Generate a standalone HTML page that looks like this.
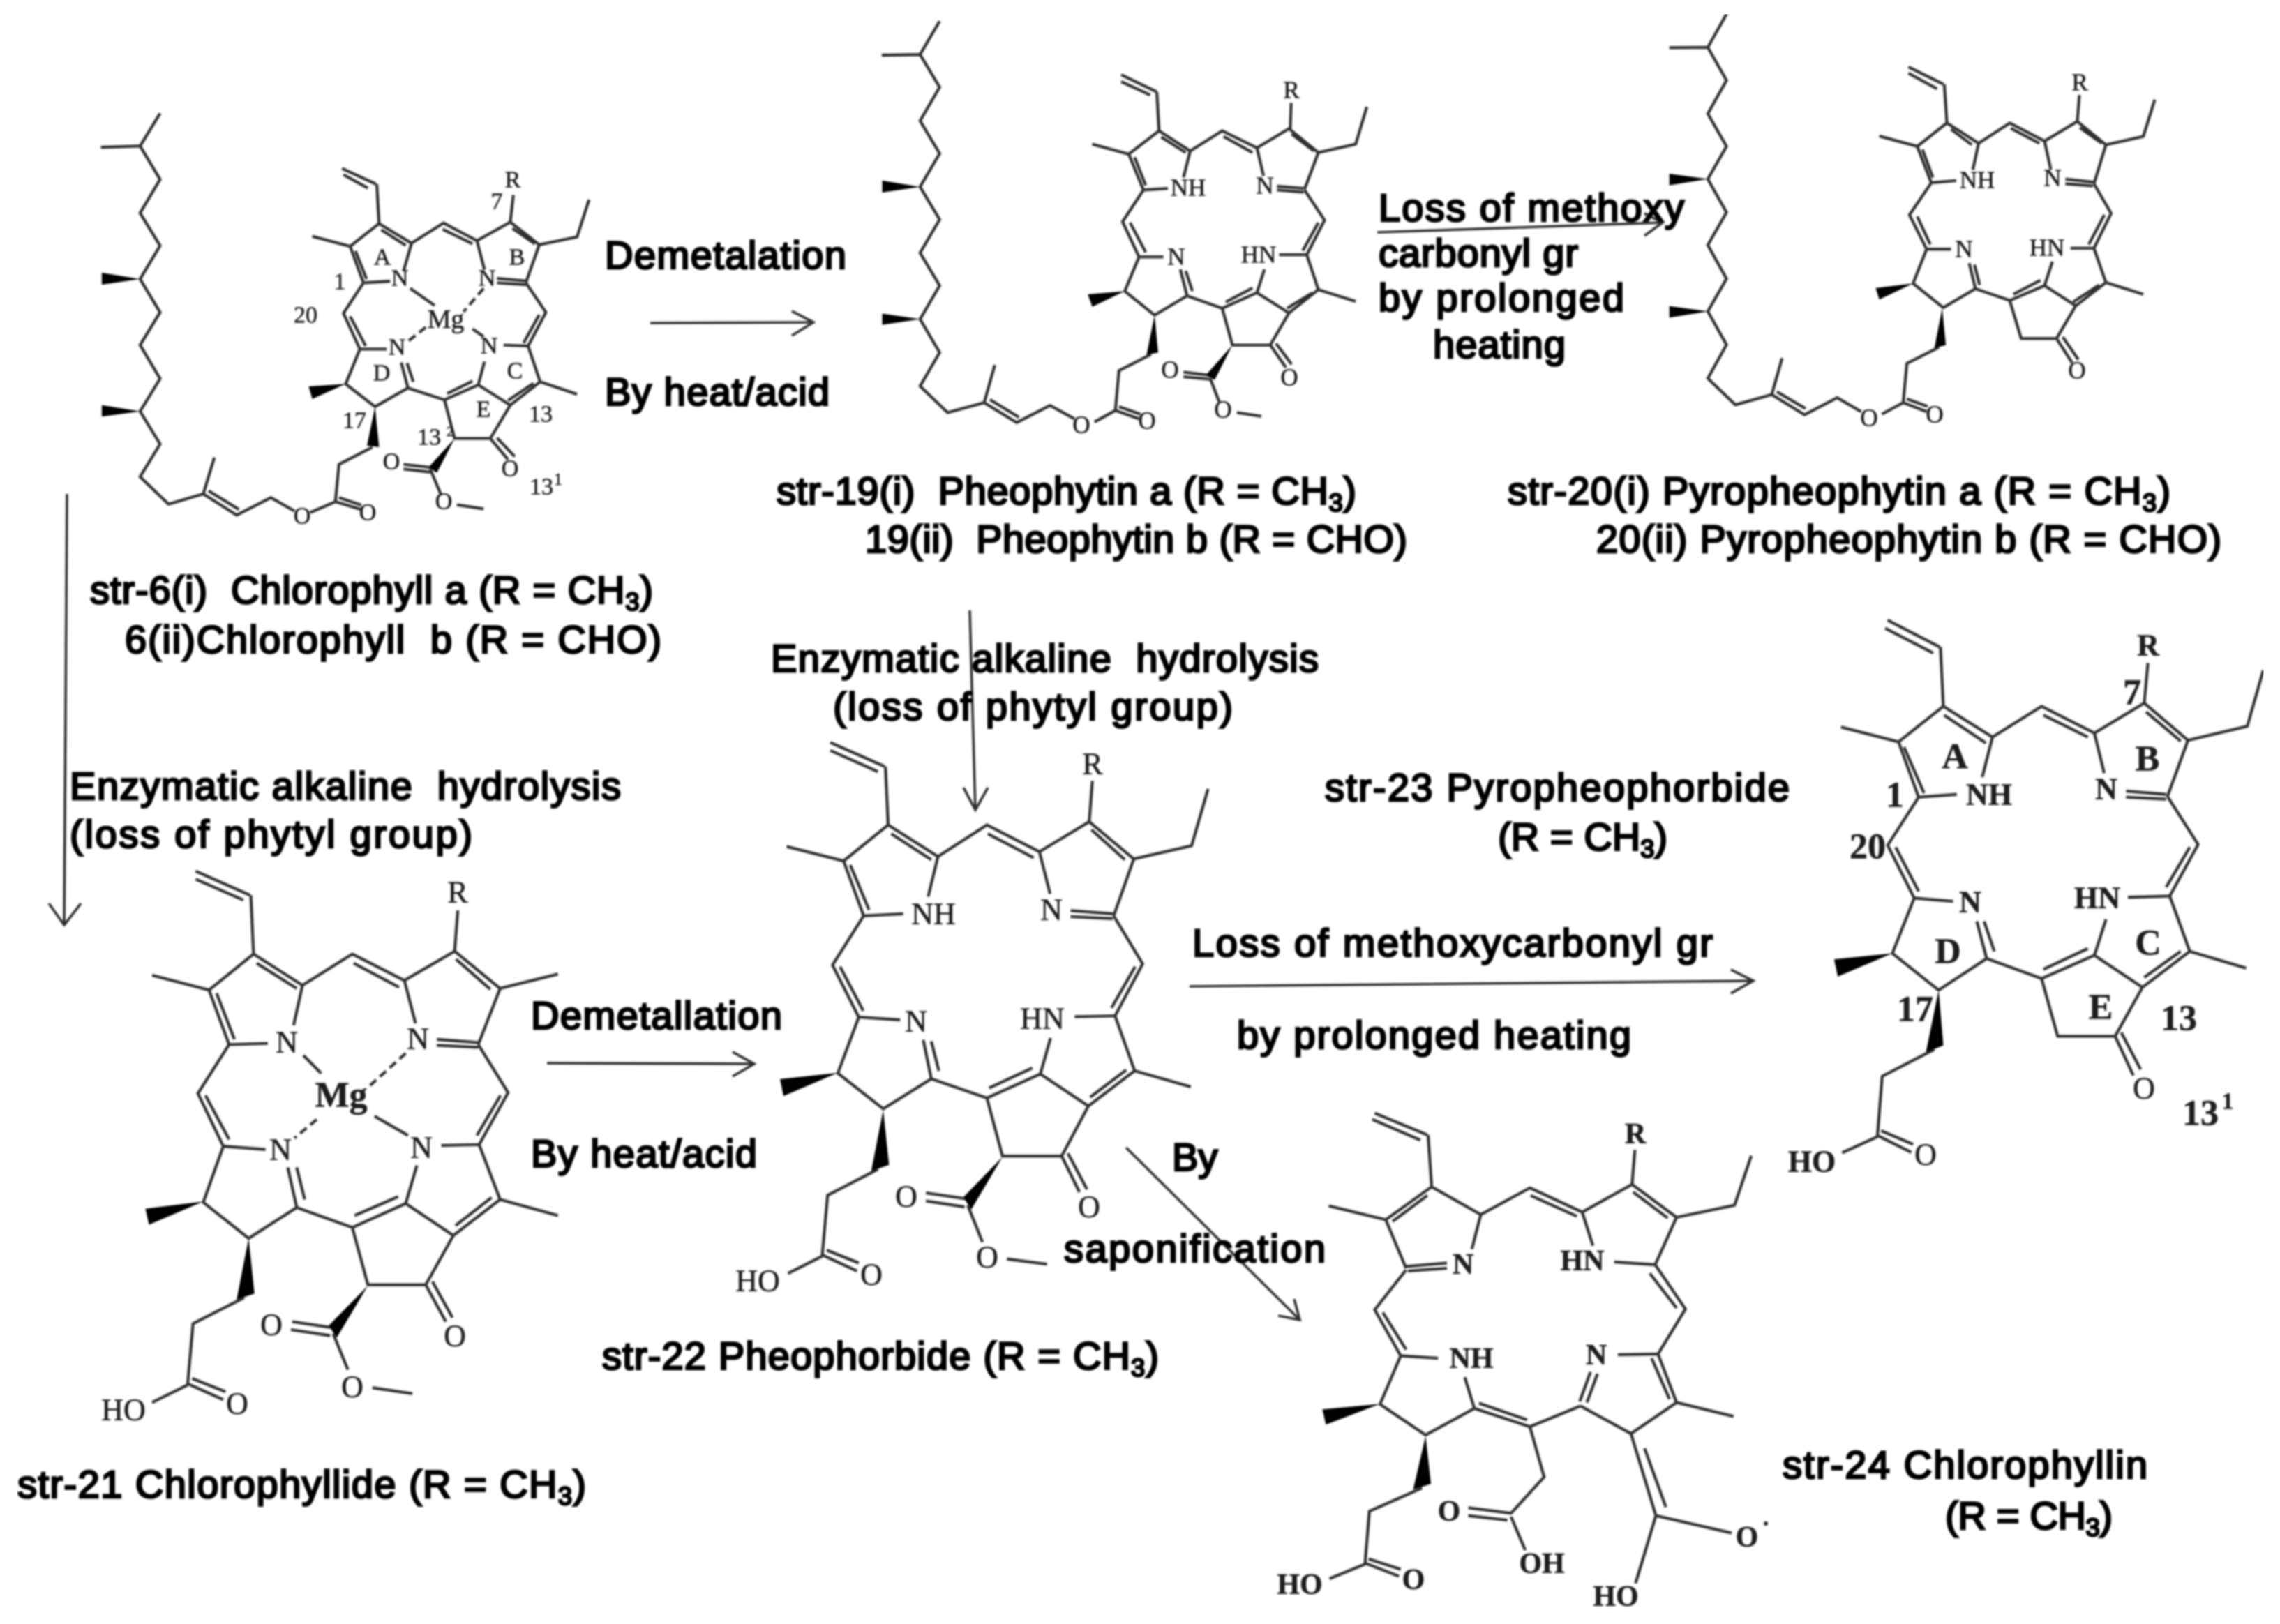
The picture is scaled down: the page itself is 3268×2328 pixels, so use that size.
<!DOCTYPE html>
<html><head><meta charset="utf-8"><style>
html,body{margin:0;padding:0;background:#fff;width:3268px;height:2328px;overflow:hidden}
svg{display:block}
.b{fill:none;stroke:#2e2e2e;stroke-width:4.2;stroke-linejoin:round;stroke-linecap:butt;vector-effect:non-scaling-stroke}
.d{stroke-dasharray:12 7}
.w{fill:#000;stroke:none}
.ar{fill:none;stroke:#2e2e2e;stroke-width:3.6}
.t{font-family:"Liberation Sans",sans-serif;font-size:56px;font-weight:normal;fill:#000;stroke:#000;stroke-width:2.8;white-space:pre}
.at text{font-family:"Liberation Serif",serif;fill:#1a1a1a;stroke:#1a1a1a;stroke-width:.5;text-anchor:middle;dominant-baseline:central}
.s{font-weight:bold}
</style></head><body>
<svg width="3268" height="2328" viewBox="0 0 3268 2328" xmlns="http://www.w3.org/2000/svg">
<defs><filter id="f" x="0" y="0" width="100%" height="100%"><feGaussianBlur stdDeviation="1.3"/></filter></defs>
<rect width="3268" height="2328" fill="#fff"/>
<g filter="url(#f)">

<!-- Molecule 1 -->
<g transform="translate(100 150) scale(.6378 .4464)">
<path class="b" d="M203,28 158,133 M70,137 158,133 203,240 158,348 203,453 158,560 203,667 158,772 203,880 158,985 203,1090 158,1195 222,1283 300,1250 375,1318 452,1262 505,1305 M300,1250 325,1133 M312,1240 380,1300 M540,1310 597,1275 655,1300 M605,1262 655,1286 M597,1275 605,1155 680,1100
M612,205 688,255 M615,225 670,268 M690,255 695,382 630,455 660,572 720,567 M695,382 768,445 750,535 M700,402 755,452 M642,470 667,560 M630,455 545,423
M768,445 840,380 915,437 M838,400 905,447 M915,437 990,377 1055,450 1025,572 M915,437 932,530 M995,397 1045,447 M990,377 997,290 M1055,450 1140,425 1167,305
M960,558 1025,566 M960,572 1025,578 M1025,572 1070,667 1030,775 975,772 M1055,675 1020,765 M1030,775 1057,890 990,965 918,900 932,825 M1057,890 1140,930 M1042,895 985,950 M918,900 842,948 M905,888 848,928 M842,948 760,910 745,828 M772,890 758,830
M760,910 686,970 620,897 652,785 712,785 M652,785 615,670 660,572 M630,680 665,775 M842,948 865,1072 945,1072 990,965 M945,1072 985,1140 M960,1070 1000,1130 M750,1155 810,1165 M750,1170 810,1180 M810,1170 835,1255 M870,1285 930,1298
M765,590 820,645 M905,720 930,745"/>
<path class="b d" d="M930,590 885,665 M800,715 760,760"/>
<path class="w" d="M158,560 72,540 72,578Z M158,985 72,965 72,1002Z M686,970 668,1095 695,1100Z M620,897 537,905 545,945Z M865,1072 806,1165 825,1182Z"/>
</g>
<g class="at" font-size="34">
<text x="573" y="399">N</text><text x="698" y="399">N</text><text x="639" y="458" font-size="38">Mg</text><text x="569" y="498">N</text><text x="701" y="496">N</text>
<text x="548" y="369">A</text><text x="741" y="369">B</text><text x="547" y="535">D</text><text x="738" y="532">C</text><text x="693" y="587">E</text>
<text x="487" y="404">1</text><text x="438" y="452">20</text><text x="508" y="603">17</text><text x="775" y="594">13</text><text x="615" y="627">13</text><text x="645" y="619" font-size="20">2</text>
<text x="776" y="698">13</text><text x="800" y="688" font-size="24">1</text><text x="712" y="289">7</text><text x="735" y="258">R</text>
<text x="561" y="662">O</text><text x="731" y="672">O</text><text x="636" y="719">O</text><text x="433" y="740">O</text><text x="527" y="735">O</text>
</g>

<!-- Molecule 2 -->
<g transform="translate(1100 0) scale(.6378 .4464)">
<path class="b" d="M387,68 343,175 M257,177 343,175 387,280 343,388 387,493 343,600 387,705 343,812 387,917 343,1025 387,1132 343,1240 405,1325 487,1293 560,1357 635,1302 690,1345 M487,1293 511,1172 M500,1283 565,1340 M735,1355 782,1318 835,1345 M790,1306 838,1330 M782,1318 790,1190 862,1138
M795,240 875,295 M795,262 860,305 M875,295 880,420 812,495 845,610 900,605 M880,420 950,485 935,570 M885,440 940,490 M825,505 850,595 M812,495 730,463
M950,485 1022,420 1100,475 M1025,438 1090,490 M1100,475 1172,413 1238,490 1207,608 M1100,475 1115,565 M1178,430 1228,485 M1175,413 1177,330 M1238,490 1322,463 1347,343
M1145,598 1205,605 M1145,610 1205,617 M1207,610 1252,707 1212,818 1150,818 M1238,715 1203,805 M1212,818 1238,930 1172,1005 1100,940 1117,865 M1238,930 1322,968 M1225,940 1168,990 M1100,940 1022,990 M1090,925 1030,970 M1022,990 943,950 928,865 M955,935 940,870
M943,950 870,1012 803,935 835,825 890,825 M835,825 798,712 845,610 M815,715 850,810 M1022,990 1045,1108 1130,1108 1172,1005 M1130,1108 1165,1180 M1143,1103 1178,1170 M935,1195 995,1205 M935,1210 995,1218 M995,1215 1015,1290 M1055,1325 1110,1337"/>
<path class="w" d="M343,600 258,580 258,618Z M343,1025 258,1007 258,1043Z M870,1012 852,1140 878,1132Z M803,935 720,945 730,985Z M1045,1108 985,1205 1005,1220Z"/>
</g>
<g class="at" font-size="35">
<text x="1703" y="269">NH</text><text x="1813" y="266">N</text><text x="1804" y="365">HN</text><text x="1686" y="368">N</text><text x="1851" y="129">R</text>
<text x="1550" y="609">O</text><text x="1644" y="603">O</text><text x="1677" y="530">O</text><text x="1848" y="541">O</text><text x="1753" y="587">O</text>
</g>

<!-- Molecule 3 -->
<g transform="translate(2100 0) scale(.7449 .4464)">
<path class="b" d="M503,45 467,152 M393,153 467,152 503,258 467,365 503,470 467,575 503,682 467,787 503,895 467,1000 503,1107 467,1215 520,1300 590,1267 653,1332 716,1277 762,1322 M590,1267 610,1150 M600,1258 655,1312 M802,1330 843,1293 888,1322 M850,1281 890,1305 M843,1293 850,1167 912,1115
M853,215 920,270 M853,235 908,285 M922,270 927,395 870,470 897,587 945,580 M927,395 988,460 977,545 M935,415 975,465 M880,480 900,570 M870,470 797,437
M988,460 1048,395 1115,453 M1050,412 1105,460 M1115,453 1178,390 1233,465 1210,590 M1115,453 1127,545 M1183,410 1225,460 M1178,390 1182,305 M1233,465 1305,438 1327,320
M1155,575 1208,585 M1155,590 1208,597 M1210,590 1243,685 1210,797 1165,797 M1230,690 1200,785 M1210,797 1233,907 1175,982 1115,917 1130,840 M1233,907 1305,945 M1220,915 1170,970 M1115,917 1048,965 M1107,900 1055,945 M1048,965 982,927 970,845 M990,915 980,850
M982,927 920,988 862,910 888,800 935,800 M888,800 855,690 897,587 M870,695 895,785 M1048,965 1070,1087 1138,1087 1175,982 M1138,1087 1168,1165 M1150,1082 1180,1155"/>
<path class="w" d="M467,575 393,558 393,595Z M467,1000 393,983 393,1020Z M918,990 903,1118 925,1108Z M862,910 790,925 797,962Z"/>
</g>
<g class="at" font-size="35">
<text x="2834" y="258">NH</text><text x="2942" y="255">N</text><text x="2934" y="355">HN</text><text x="2815" y="357">N</text><text x="2981" y="118">R</text>
<text x="2679" y="599">O</text><text x="2773" y="594">O</text><text x="2977" y="531">O</text>
</g>

<!-- Molecule 4 -->
<g transform="translate(100 1200) scale(.6378 .574)">
<path class="b" d="M283,85 405,145 M283,105 390,157 M407,145 413,292 313,382 358,518 445,515 M413,292 523,370 503,470 M420,315 510,378 M330,390 370,505 M313,382 185,345
M523,370 635,292 752,358 M638,315 740,375 M752,358 865,285 967,378 918,518 M752,358 777,465 M868,305 945,380 M865,285 872,183 M967,378 1097,342 M825,505 918,513 M825,520 918,525
M918,518 985,638 920,768 835,770 M968,645 915,745 M920,768 967,905 862,995 755,915 780,820 M967,905 1097,945 M948,900 867,970 M755,915 635,975 M738,898 640,945 M635,975 510,925 490,825 M528,905 510,825
M510,925 402,1002 300,912 345,772 440,780 M345,772 288,640 358,518 M305,645 358,755 M635,975 670,1118 800,1118 862,995 M800,1118 845,1210 M815,1110 860,1200 M592,1240 625,1330 M500,1210 590,1225 M497,1230 585,1245 M680,1375 770,1390
M392,1150 277,1215 265,1365 345,1405 M275,1352 350,1385 M265,1368 185,1412 M525,545 565,590 M685,697 760,745"/>
<path class="b d" d="M755,540 675,620 M555,705 505,752"/>
<path class="w" d="M300,910 170,928 178,968Z M402,1002 375,1155 415,1140Z M670,1120 582,1220 600,1250Z"/>
</g>
<g class="at" font-size="44">
<text x="411" y="1494">N</text><text x="599" y="1489">N</text><text x="489" y="1570" font-size="52" class="s">Mg</text><text x="402" y="1648">N</text><text x="604" y="1645">N</text><text x="656" y="1279">R</text>
<text x="389" y="1899">O</text><text x="652" y="1915">O</text><text x="505" y="1988">O</text><text x="340" y="2012">O</text><text x="177" y="2021">HO</text>
</g>

<!-- Molecule 5 -->
<g transform="translate(1000 1000) scale(.6378 .574)">
<path class="b" d="M298,112 420,172 M298,132 405,185 M422,172 428,318 328,408 373,545 462,540 M428,318 540,397 518,497 M435,340 525,405 M343,418 385,530 M328,408 200,372
M540,397 650,318 768,385 M652,340 755,400 M768,385 880,310 980,403 935,545 M768,385 792,490 M885,330 960,405 M880,310 887,208 M980,403 1110,370 1147,228 M838,532 933,540 M838,547 933,552
M935,545 1000,665 938,795 847,797 M983,672 930,775 M938,795 982,932 878,1020 770,940 793,850 M982,932 1108,972 M963,930 882,998 M770,940 650,1000 M752,925 655,975 M650,1000 525,952 507,855 M542,932 525,858
M525,952 417,1027 315,938 362,798 455,805 M362,798 303,668 373,545 M320,672 372,782 M650,1000 685,1145 818,1145 878,1020 M818,1145 858,1235 M832,1138 875,1228 M607,1268 640,1360 M513,1237 605,1252 M513,1257 600,1272 M695,1402 785,1415
M405,1178 292,1243 280,1392 358,1432 M290,1380 362,1412 M280,1395 203,1438"/>
<path class="w" d="M315,937 185,953 193,995Z M417,1030 390,1183 430,1167Z M685,1147 597,1248 615,1278Z"/>
</g>
<g class="at" font-size="44">
<text x="1338" y="1310">NH</text><text x="1507" y="1304">N</text><text x="1494" y="1460">HN</text><text x="1313" y="1464">N</text><text x="1566" y="1095">R</text>
<text x="1299" y="1715">O</text><text x="1561" y="1730">O</text><text x="1415" y="1802">O</text><text x="1249" y="1827">O</text><text x="1086" y="1836">HO</text>
</g>

<!-- Molecule 6 -->
<g transform="translate(2450 850) scale(.5217 .574)">
<path class="b" d="M490,68 633,135 M483,88 615,150 M635,135 643,283 520,372 575,510 680,503 M643,283 778,360 750,460 M645,305 760,375 M535,385 590,500 M520,372 362,335
M778,360 913,283 1058,350 M918,305 1040,360 M1058,350 1195,275 1315,368 1258,510 M1058,350 1085,450 M1200,297 1295,370 M1195,275 1205,175 M1315,368 1478,333 1522,193 M1145,495 1255,503 M1145,510 1255,515
M1260,510 1343,628 1265,757 1150,760 M1320,635 1255,735 M1265,757 1320,895 1190,985 1058,905 1090,815 M1320,895 1475,937 M1295,895 1195,960 M1058,905 913,963 M1040,888 918,940 M913,963 762,913 735,820 M783,895 755,820
M762,913 630,992 503,900 563,762 670,770 M563,762 490,630 575,510 M512,635 575,745 M913,963 957,1107 1115,1107 1190,985 M1115,1107 1165,1205 M1132,1098 1185,1190
M618,1140 475,1207 462,1355 555,1397 M472,1343 560,1377 M462,1358 365,1398"/>
<path class="w" d="M503,900 343,915 353,958Z M630,992 595,1148 643,1130Z"/>
</g>
<g class="at" font-size="44">
<text x="2851" y="1139" class="s">NH</text><text x="3019" y="1131" class="s">N</text><text x="2824" y="1293" class="s">N</text><text x="3006" y="1287" class="s">HN</text><text x="3079" y="925" class="s">R</text>
<text x="3073" y="1560">O</text><text x="2760" y="1655">O</text><text x="2597" y="1665" class="s">HO</text>
<g font-size="52" class="s"><text x="2802" y="1085">A</text><text x="3078" y="1088">B</text><text x="2716" y="1140">1</text><text x="2677" y="1214">20</text><text x="2792" y="1364">D</text><text x="3079" y="1352">C</text><text x="3011" y="1444">E</text><text x="2745" y="1447">17</text><text x="3123" y="1460">13</text><text x="3154" y="1596">13</text><text x="3193" y="1579" font-size="34">1</text><text x="3056" y="993">7</text></g>
</g>

<!-- Molecule 7 -->
<g transform="translate(1750 1550) scale(.5102 .4962)">
<path class="b" d="M432,92 580,155 M425,110 560,170 M582,155 592,305 463,400 520,540 M592,305 730,385 705,485 M580,330 482,405 M463,400 303,360 M520,535 635,525 M525,548 635,540
M730,385 868,308 1015,378 M870,330 1000,390 M1015,378 1155,298 1280,393 1220,530 1105,522 M1015,378 1045,475 M1158,320 1255,395 M1155,298 1163,198 M1280,393 1443,358 1490,215
M1220,530 1305,658 1228,788 1115,790 M1205,555 1280,655 M1228,788 1280,928 1152,1018 1010,938 M1210,800 1260,918 M1058,845 1028,928 M1038,840 1008,925 M1280,928 1440,968 M1010,938 868,998 712,945 685,855 M725,930 860,978
M712,945 575,1022 447,933 505,793 610,800 M505,793 432,660 520,545 M455,668 520,775 M565,1175 417,1242 405,1392 500,1430 M415,1380 505,1410 M405,1395 305,1437
M868,998 908,1143 815,1248 695,1232 M805,1268 695,1255 M815,1258 855,1355 M1152,1018 1222,1255 M1190,1060 1250,1230 M1222,1255 1435,1305 M1222,1255 1165,1450"/>
<path class="w" d="M447,932 285,948 295,992Z M575,1025 540,1180 590,1163Z"/>
</g>
<g class="at" font-size="42">
<text x="2097" y="1813" class="s">N</text><text x="2268" y="1808" class="s">HN</text><text x="2288" y="1943" class="s">N</text><text x="2109" y="1948" class="s">NH</text><text x="2344" y="1626" class="s">R</text>
<text x="2077" y="2167" class="s">O</text><text x="2210" y="2242" class="s">OH</text><text x="2026" y="2265" class="s">O</text><text x="1863" y="2272" class="s">HO</text><text x="2316" y="2289" class="s">HO</text><text x="2504" y="2204" class="s">O</text>
<circle cx="2531" cy="2184" r="3" fill="#222"/>
</g>

<!-- Arrows -->
<path class="ar" d="M932,463 1166,462 M1135,446 1166,462 1135,481"/>
<path class="ar" d="M1974,333 2383,319 M2357,306 2383,319 2357,338"/>
<path class="ar" d="M96,708 92,1326 M70,1295 92,1326 116,1295"/>
<path class="ar" d="M1390,875 1398,1161 M1381,1129 1398,1161 1416,1129"/>
<path class="ar" d="M784,1524 1081,1525 M1050,1508 1081,1525 1050,1543"/>
<path class="ar" d="M1705,1414 2513,1406 M2481,1390 2513,1406 2481,1424"/>
<path class="ar" d="M1614,1645 1863,1892 M1855,1862 1863,1892 1832,1886"/>

<!-- Labels -->
<text class="t" x="867" y="385" textLength="346">Demetalation</text>
<text class="t" x="867" y="581" textLength="322">By heat/acid</text>
<text class="t" x="1976" y="317" textLength="438">Loss of methoxy</text>
<text class="t" x="1976" y="382" textLength="286">carbonyl gr</text>
<text class="t" x="1976" y="446" textLength="352">by prolonged</text>
<text class="t" x="2054" y="513" textLength="190">heating</text>
<text class="t" x="1113" y="723" textLength="831">str-19(i)  Pheophytin a (R = CH<tspan dy="10" font-size="36">3</tspan><tspan dy="-10">)</tspan></text>
<text class="t" x="1240" y="792" textLength="777">19(ii)  Pheophytin b (R = CHO)</text>
<text class="t" x="2161" y="723" textLength="950">str-20(i) Pyropheophytin a (R = CH<tspan dy="10" font-size="36">3</tspan><tspan dy="-10">)</tspan></text>
<text class="t" x="2288" y="792" textLength="896">20(ii) Pyropheophytin b (R = CHO)</text>
<text class="t" x="129" y="865" textLength="807">str-6(i)  Chlorophyll a (R = CH<tspan dy="10" font-size="36">3</tspan><tspan dy="-10">)</tspan></text>
<text class="t" x="179" y="936" textLength="769">6(ii)Chlorophyll  b (R = CHO)</text>
<text class="t" x="100" y="1146" textLength="790">Enzymatic alkaline  hydrolysis</text>
<text class="t" x="100" y="1215" textLength="577">(loss of phytyl group)</text>
<text class="t" x="1105" y="963" textLength="785">Enzymatic alkaline  hydrolysis</text>
<text class="t" x="1194" y="1032" textLength="573">(loss of phytyl group)</text>
<text class="t" x="1899" y="1148" textLength="666">str-23 Pyropheophorbide</text>
<text class="t" x="2147" y="1219" textLength="243">(R = CH<tspan dy="10" font-size="36">3</tspan><tspan dy="-10">)</tspan></text>
<text class="t" x="761" y="1475" textLength="360">Demetallation</text>
<text class="t" x="761" y="1673" textLength="324">By heat/acid</text>
<text class="t" x="1709" y="1371" textLength="746">Loss of methoxycarbonyl gr</text>
<text class="t" x="1773" y="1503" textLength="565">by prolonged heating</text>
<text class="t" x="1680" y="1678">By</text>
<text class="t" x="1525" y="1809" textLength="375">saponification</text>
<text class="t" x="863" y="1963" textLength="798">str-22 Pheophorbide (R = CH<tspan dy="10" font-size="36">3</tspan><tspan dy="-10">)</tspan></text>
<text class="t" x="25" y="2147" textLength="815">str-21 Chlorophyllide (R = CH<tspan dy="10" font-size="36">3</tspan><tspan dy="-10">)</tspan></text>
<text class="t" x="2555" y="2119" textLength="523">str-24 Chlorophyllin</text>
<text class="t" x="2788" y="2192" textLength="240">(R = CH<tspan dy="10" font-size="36">3</tspan><tspan dy="-10">)</tspan></text>
</g>
</svg>
</body></html>
